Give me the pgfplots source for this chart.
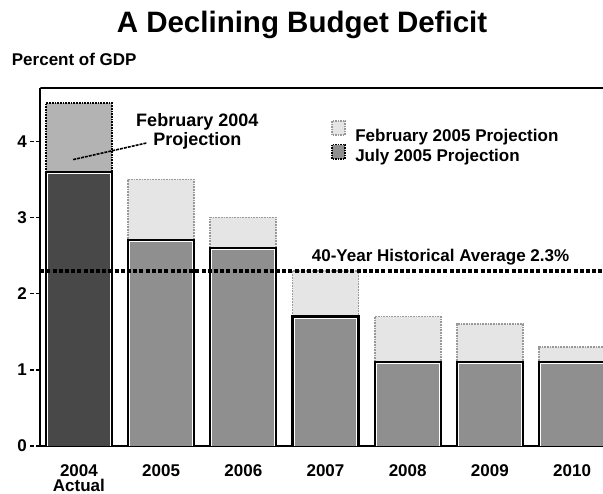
\documentclass[border=0pt]{standalone}
\usepackage{fontspec}
\setmainfont{Liberation Sans}
\usepackage{pgfplots}
\usepackage{pgfplotstable}
\pgfplotsset{compat=1.18}

\definecolor{julygray}{HTML}{8F8F8F}
\definecolor{actualgray}{HTML}{484848}
\definecolor{febgray}{HTML}{E5E5E5}
\definecolor{feb04gray}{HTML}{B3B3B3}
\definecolor{dotgray}{HTML}{999999}

% x: 0=2004 ... 6=2010
\pgfplotstableread{
x feb july
1 3.5 2.7
2 3.0 2.6
3 2.3 1.7
4 1.7 1.1
5 1.6 1.1
6 1.3 1.1
}\projections

\pgfplotstableread{
x feb actual
0 4.5 3.6
}\actual

\newcommand{\lbl}{\fontsize{17}{14.4}\selectfont\bfseries}

\begin{document}
\begin{tikzpicture}
\useasboundingbox (-40.3pt,-48pt) rectangle (562.7pt,446pt);
\begin{axis}[
  scale only axis,
  width=563pt, height=358pt,
  at={(0pt,0pt)}, anchor=south west,
  xmin=-0.47, xmax=6.38,
  ymin=0, ymax=4.70,
  axis x line*=bottom,
  axis y line*=left,
  axis line style={line width=2.4pt},
  xtick={0,...,6},
  xticklabels={{2004\\Actual},2005,2006,2007,2008,2009,2010},
  x tick style={draw=none},
  xticklabel style={font=\fontsize{17}{15.2}\selectfont\bfseries, align=center, yshift=-5pt},
  ytick={0,1,2,3,4},
  tick align=outside,
  major tick length=10pt,
  y tick style={line width=1.6pt, black, dash pattern=on 4pt off 1.5pt},
  yticklabel style={font=\lbl},
  /pgf/number format/assume math mode=true,
  clip=true,
]
% February 2004 projection box behind 2004 actual
\addplot[ybar, bar shift=0pt, bar width=66pt, fill=feb04gray, draw=black,
  line width=1.7pt, dash pattern=on 1.7pt off 1pt] table[x=x, y=feb] {\actual};
\addplot[ybar, bar shift=0pt, bar width=66pt, fill=actualgray, draw=black,
  line width=2.3pt] table[x=x, y=actual] {\actual};
\addplot[ybar, bar shift=0pt, bar width=62.8pt, fill=actualgray, draw=white,
  line width=1pt, yshift=-1.6pt] table[x=x, y=actual] {\actual};

% February 2005 projection
\addplot[ybar, bar shift=0pt, bar width=66pt, fill=febgray, draw=dotgray,
  line width=1.7pt, dash pattern=on 1.7pt off 1pt] table[x=x, y=feb] {\projections};
% July 2005 projection
\addplot[ybar, bar shift=0pt, bar width=66pt, fill=julygray, draw=black,
  line width=2.3pt] table[x=x, y=july] {\projections};
\addplot[ybar, bar shift=0pt, bar width=62.8pt, fill=julygray, draw=white,
  line width=1pt, yshift=-1.6pt] table[x=x, y=july] {\projections};

% 40-year average
\addplot[black, line width=3.5pt, dash pattern=on 4pt off 2.2pt] coordinates {(-0.47,2.3) (6.38,2.3)};

\draw[line width=2.4pt] (rel axis cs:0,1) -- (rel axis cs:1,1);

\node[font=\lbl, anchor=base] at (axis cs:4.40,2.42) {40-Year Historical Average 2.3\%};

% annotation for Feb 2004
\node[font=\fontsize{18}{18}\selectfont\bfseries, anchor=base] at (axis cs:1.44,4.19) {February 2004};
\node[font=\fontsize{18}{18}\selectfont\bfseries, anchor=base] at (axis cs:1.44,3.95) {Projection};
\draw[line width=1.6pt, dash pattern=on 3pt off 1pt] (axis cs:-0.07,3.76) -- (axis cs:0.83,3.98);

% legend
\draw[fill=febgray, draw=dotgray, line width=1.5pt, dash pattern=on 1.5pt off 1pt]
  (axis cs:3.08,4.265) rectangle (axis cs:3.24,4.08);
\draw[fill=julygray, draw=black, line width=1.5pt, dash pattern=on 1.5pt off 1pt]
  (axis cs:3.08,3.955) rectangle (axis cs:3.24,3.77);
\node[font=\lbl, anchor=base west, inner sep=0pt] at (axis cs:3.36,3.999) {February 2005 Projection};
\node[font=\lbl, anchor=base west, inner sep=0pt] at (axis cs:3.36,3.731) {July 2005 Projection};
\end{axis}

\node[font=\fontsize{29.5}{29.5}\selectfont\bfseries, anchor=base] at (261.7pt,413pt) {A Declining Budget Deficit};
\node[font=\fontsize{17}{17}\selectfont\bfseries, anchor=base west, inner sep=0pt] at (-28.6pt,380pt) {Percent of GDP};
\end{tikzpicture}
\end{document}
